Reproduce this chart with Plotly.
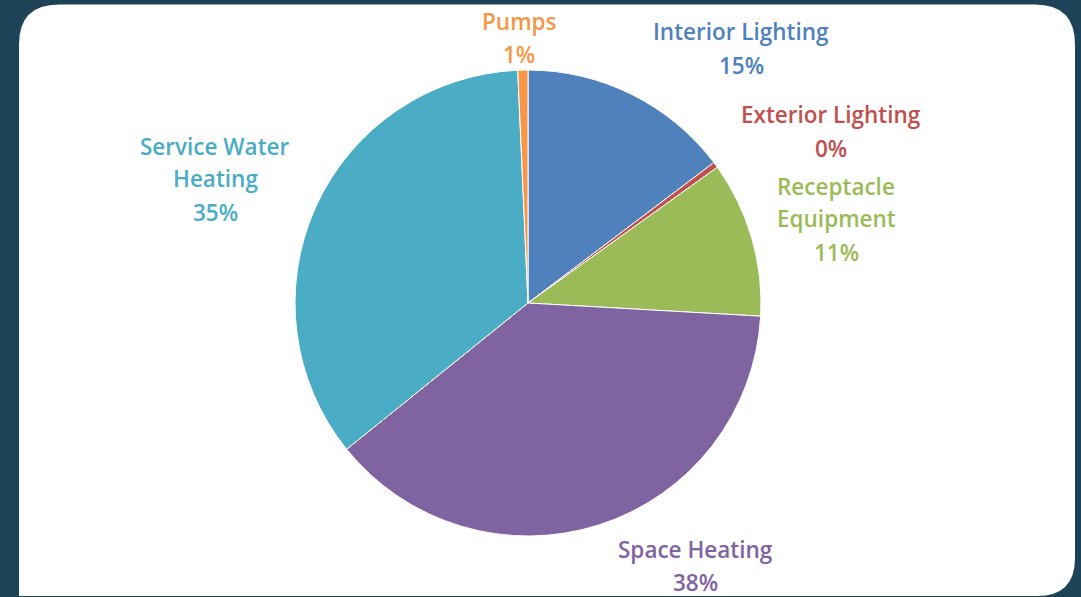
import plotly.graph_objects as go

W, H = 1081, 597

# ---- data ----
categories = ["Interior Lighting", "Exterior Lighting", "Receptacle Equipment",
              "Space Heating", "Service Water Heating", "Pumps"]
values = [14.7, 0.4, 10.8, 38.3, 35.1, 0.7]
colors = ["#4f81bd", "#c0504d", "#9bbb59", "#8064a2", "#4bacc6", "#f79646"]
label_lines = [["Interior Lighting"], ["Exterior Lighting"], ["Receptacle", "Equipment"],
               ["Space Heating"], ["Service Water", "Heating"], ["Pumps"]]

# ---- layout (pixel positions of label blocks: center x, first-line center y) ----
label_pos = [(741, 32), (831, 115), (836, 186), (695, 549), (215, 146), (519, 22)]
LINE = 33
cx, cy, R = 528, 303, 233

def px(x):
    return x / W

def py(y):
    return 1 - y / H

fig = go.Figure()
fig.add_trace(go.Pie(
    labels=categories, values=values, sort=False, direction="clockwise",
    rotation=0, marker=dict(colors=colors, line=dict(color="white", width=1)),
    textinfo="none", hoverinfo="label+percent", showlegend=False,
    domain=dict(x=[px(cx - R), px(cx + R)], y=[py(cy + R), py(cy - R)]),
))

total = sum(values)
annotations = []
for lines, v, c, (x0, y0) in zip(label_lines, values, colors, label_pos):
    texts = lines + [f"{round(v / total * 100)}%"]
    for i, t in enumerate(texts):
        annotations.append(dict(
            x=px(x0), y=py(y0 + i * LINE), xref="paper", yref="paper",
            text=t, showarrow=False, xanchor="center", yanchor="middle",
            borderpad=0,
            font=dict(family="Open Sans", size=22.5, color=c, weight=600),
        ))

# rounded white card
x0, y0, x1, y1b, r, rb = 19, 4.5, 1075, 596, 40, 38
path = (f"M {px(x0 + r)} {py(y0)} L {px(x1 - r)} {py(y0)} "
        f"Q {px(x1)} {py(y0)} {px(x1)} {py(y0 + r)} "
        f"L {px(x1)} {py(y1b - rb)} Q {px(x1)} {py(y1b)} {px(x1 - rb)} {py(y1b)} "
        f"L {px(x0)} {py(y1b)} "
        f"L {px(x0)} {py(y0 + r)} Q {px(x0)} {py(y0)} {px(x0 + r)} {py(y0)} Z")

fig.update_layout(
    width=W, height=H, margin=dict(l=0, r=0, t=0, b=0),
    paper_bgcolor="#1e4257", plot_bgcolor="#1e4257",
    shapes=[dict(type="path", path=path, xref="paper", yref="paper",
                 fillcolor="white", line=dict(width=0), layer="below")],
    annotations=annotations,
)
fig.write_html("out.html")
